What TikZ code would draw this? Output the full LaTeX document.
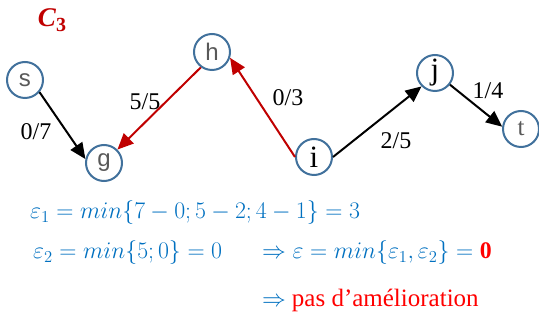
\RequirePackage{fix-cm}
\documentclass[tikz,border=0pt]{standalone}
\usepackage{fontspec}
\setmainfont{Liberation Serif}
\newfontfamily\arialfont{Liberation Sans}
\usetikzlibrary{arrows.meta}
\definecolor{circblue}{RGB}{65,113,156}
\definecolor{darkred}{RGB}{192,0,0}
\definecolor{eqblue}{RGB}{0,112,192}
\definecolor{vgrey}{RGB}{89,89,89}

\begin{document}
\begin{tikzpicture}[x=1pt,y=-1pt]
  \tikzstyle{vertex}=[circle,draw=circblue,line width=2pt,minimum size=36pt,inner sep=0pt,fill=white]
  \tikzstyle{sans}=[text=vgrey,font=\arialfont\fontsize{24}{24}\selectfont]
  \tikzstyle{serif}=[font=\fontsize{31}{31}\selectfont]
  \tikzstyle{flow}=[line width=2pt,-{Triangle[length=16pt,width=14pt]}]
  \tikzstyle{weight}=[font=\fontsize{24}{24}\selectfont,inner sep=0pt]
  \tikzstyle{eq}=[anchor=west,inner sep=0pt,text=eqblue,font=\fontsize{23.8}{24}\selectfont]

  \useasboundingbox (0,0) rectangle (539,320);

  \node[text=darkred,font=\fontsize{27}{27}\selectfont] (title) at (52,20)
    {\textbf{\textit{C}}\raisebox{-0.4ex}{\fontsize{20}{20}\selectfont\textbf{3}}};

  \node[vertex,sans] (s) at (25,80) {s};
  \node[vertex,sans] (h) at (212,52) {h};
  \node[vertex,sans] (g) at (104,163) {g};
  \node[vertex,serif] (i) at (314,157) {i};
  \node[vertex,serif] (j) at (435,73) {j};
  \node[vertex,serif,text=vgrey,font=\fontsize{25}{25}\selectfont] (t) at (521,129) {t};

  \draw[flow] (s.-40) -- (g.168);
  \draw[flow,darkred] (h.-126) -- (g.45);
  \draw[flow,darkred] (i.180) -- (h.-18);
  \draw[flow] (i.0) -- (j.-135);
  \draw[flow] (j.-38) -- (t.173);

  \node[weight] (w1) at (36,132) {0/7};
  \node[weight] (w2) at (145,102) {5/5};
  \node[weight] (w3) at (288,98) {0/3};
  \node[weight] (w4) at (396,141) {2/5};
  \node[weight] (w5) at (488,91) {1/4};

  \node[eq] (e1) at (30,213) {$\varepsilon_1 = min\{7-0; 5-2; 4-1\} = 3$};
  \node[eq] (e2) at (33,253) {$\varepsilon_2 = min\{5; 0\} = 0$};
  \node[eq] (e3) at (262,253) {$\Rightarrow \varepsilon = min\{\varepsilon_1, \varepsilon_2\} = {}$\textcolor{red}{\textbf{0}}};
  \node[eq] (e4) at (262,300) {$\Rightarrow$ \textcolor{red}{\fontsize{25}{25}\selectfont pas d’amélioration}};
\end{tikzpicture}
\end{document}
